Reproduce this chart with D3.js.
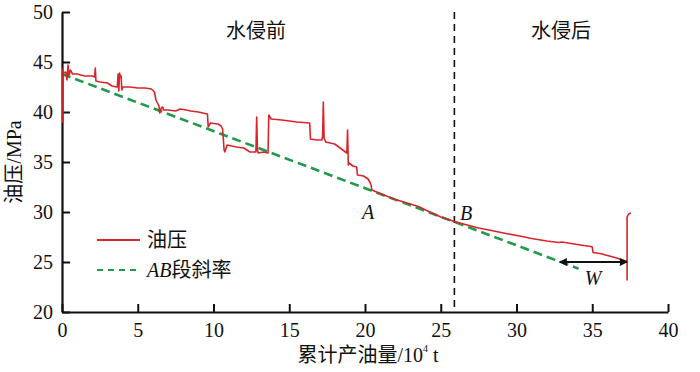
<!DOCTYPE html>
<html><head><meta charset="utf-8">
<script src="https://cdn.jsdelivr.net/npm/d3@7"></script>
<style>
body{margin:0;background:#fff;}
svg{display:block;font-family:"Liberation Serif","Noto Sans CJK SC",serif;}
</style></head>
<body><svg id="c" width="700" height="372"></svg>
<script>
// Cumulative oil production (10^4 t) and oil pressure (MPa)
const prodX = [0.06,0.06,0.1,0.25,0.33,0.4,0.45,0.55,0.7,1.0,1.5,2.0,2.15,2.2,2.24,2.5,3.0,3.3,3.6,3.65,3.7,3.75,3.8,3.85,3.9,3.95,4.0,4.5,5.0,5.5,5.9,6.1,6.2,6.4,6.45,6.55,6.65,6.7,7.0,7.5,7.8,8.2,8.5,9.0,9.6,9.65,9.8,10.3,10.5,10.6,10.7,10.75,10.9,11.5,12.0,12.4,12.8,12.85,12.9,12.95,13.3,13.6,13.65,13.8,14.5,15.5,16.35,16.4,16.8,17.15,17.2,17.25,17.3,17.4,18.0,18.8,18.85,18.9,18.95,19.2,19.45,19.5,19.9,20.2,20.35,20.4,20.45,21.0,22.0,23.0,23.6,24.0,24.5,25.0,25.9,26.5,27.5,28.5,29.3,30.2,31.0,32.0,32.8,33.0,34.0,34.9,35.0,35.05,35.5,36.5,37.3,37.3,37.3,37.4,37.55];
const pressure = [38.9,44.3,43.9,44.0,43.2,44.7,43.6,44.2,43.8,43.8,43.6,43.6,43.5,44.4,43.1,43.0,42.9,42.6,42.5,42.5,43.8,42.1,43.9,43.5,43.6,42.2,42.5,42.5,42.4,42.4,42.3,42.0,41.2,40.6,39.9,40.4,40.5,40.2,40.2,40.1,40.3,40.2,40.1,40.0,39.8,38.5,38.9,38.8,38.6,38.3,36.2,36.0,36.7,36.5,36.4,36.0,36.0,39.5,36.2,35.9,36.0,35.9,39.7,39.3,39.2,39.0,38.9,37.3,37.2,37.2,37.5,41.0,37.4,37.0,36.8,35.9,38.2,34.7,34.9,34.6,34.5,33.7,33.6,33.3,32.9,32.7,32.2,31.85,31.25,30.8,30.5,30.2,29.85,29.5,29.05,28.8,28.4,28.1,27.85,27.6,27.35,27.1,26.95,27.0,26.75,26.55,26.5,25.95,25.85,25.45,25.05,23.2,29.5,29.8,29.9];
// AB segment slope line (endpoints)
const slopeX = [0, 34.1];
const slopeY = [43.8, 24.33];
const xTicks = [0,5,10,15,20,25,30,35,40];
const yTicks = [20,25,30,35,40,45,50];
const boundaryX = 25.9;
const arrowX = [32.85, 37.3];
const arrowY = 25.0;

const svg = d3.select("#c");
const x = d3.scaleLinear().domain([0,40]).range([62,668]);
const y = d3.scaleLinear().domain([20,50]).range([312,12]);
const red = "#d7262b", green = "#1f9a4a";

svg.append("defs").append("marker").attr("id","ah").attr("viewBox","0 0 10 10")
  .attr("refX",9).attr("refY",5).attr("markerWidth",5).attr("markerHeight",4)
  .attr("orient","auto-start-reverse").attr("markerUnits","strokeWidth")
  .append("path").attr("d","M0,0L10,5L0,10Z").attr("fill","#111");

// boundary dashed line
svg.append("line").attr("x1",x(boundaryX)).attr("x2",x(boundaryX)).attr("y1",y(50)).attr("y2",y(20))
  .attr("stroke","#111").attr("stroke-width",1.6).attr("stroke-dasharray","7,5");

// slope line
svg.append("path").datum(slopeX.map((d,i)=>[d,slopeY[i]]))
  .attr("d",d3.line().x(d=>x(d[0])).y(d=>y(d[1])))
  .attr("fill","none").attr("stroke",green).attr("stroke-width",2.6).attr("stroke-dasharray","9,5");

// axes
const gx = svg.append("g").attr("transform",`translate(0,${y(20)})`)
  .call(d3.axisBottom(x).tickValues(xTicks).tickSizeInner(-8).tickSizeOuter(0).tickPadding(11));
const gy = svg.append("g").attr("transform",`translate(${x(0)},0)`)
  .call(d3.axisLeft(y).tickValues(yTicks).tickSizeInner(-8).tickSizeOuter(0).tickPadding(9));
[gx,gy].forEach(g=>{
  g.select(".domain").attr("stroke","#111").attr("stroke-width",2.2);
  g.selectAll(".tick line").attr("stroke","#111").attr("stroke-width",2);
  g.selectAll(".tick text").attr("font-size",20).attr("fill","#111")
    .attr("font-family","'Liberation Serif',serif");
});

// red pressure line
svg.append("path").datum(prodX.map((d,i)=>[d,pressure[i]]))
  .attr("d",d3.line().x(d=>x(d[0])).y(d=>y(d[1])))
  .attr("fill","none").attr("stroke",red).attr("stroke-width",1.6).attr("stroke-linejoin","round");

// W arrow
svg.append("line").attr("x1",x(arrowX[0])).attr("x2",x(arrowX[1])).attr("y1",y(arrowY)).attr("y2",y(arrowY))
  .attr("stroke","#111").attr("stroke-width",2).attr("marker-start","url(#ah)").attr("marker-end","url(#ah)");

// text labels
const T = (tx,ty,s,opt={})=>svg.append("text").attr("x",tx).attr("y",ty).attr("font-size",opt.fs||20)
  .attr("text-anchor",opt.a||"middle").attr("dominant-baseline","central").attr("fill","#111")
  .attr("font-style",opt.it?"italic":null).text(s);
T(256,31,"水侵前");
T(561,31,"水侵后");
T(368,212,"A",{it:1});
T(466,213,"B",{it:1});
T(593,278,"W",{it:1});

// axis titles
const xt = svg.append("text").attr("x",368).attr("y",355).attr("text-anchor","middle")
  .attr("dominant-baseline","central").attr("font-size",20).attr("fill","#111");
xt.append("tspan").text("累计产油量/10");
xt.append("tspan").attr("font-size",10).attr("dy",-7).text("4");
xt.append("tspan").attr("dy",7).text(" t");
svg.append("text").attr("transform","translate(14,162) rotate(-90)").attr("text-anchor","middle")
  .attr("dominant-baseline","central").attr("font-size",20).attr("fill","#111").text("油压/MPa");

// legend
svg.append("line").attr("x1",97).attr("x2",140).attr("y1",240).attr("y2",240).attr("stroke",red).attr("stroke-width",1.8);
svg.append("line").attr("x1",97).attr("x2",140).attr("y1",270).attr("y2",270).attr("stroke",green)
  .attr("stroke-width",2.2).attr("stroke-dasharray","6,5");
T(147,240,"油压",{a:"start"});
const lg = svg.append("text").attr("x",147).attr("y",270).attr("dominant-baseline","central")
  .attr("font-size",20).attr("fill","#111");
lg.append("tspan").attr("font-style","italic").text("AB");
lg.append("tspan").text("段斜率");
</script></body></html>
